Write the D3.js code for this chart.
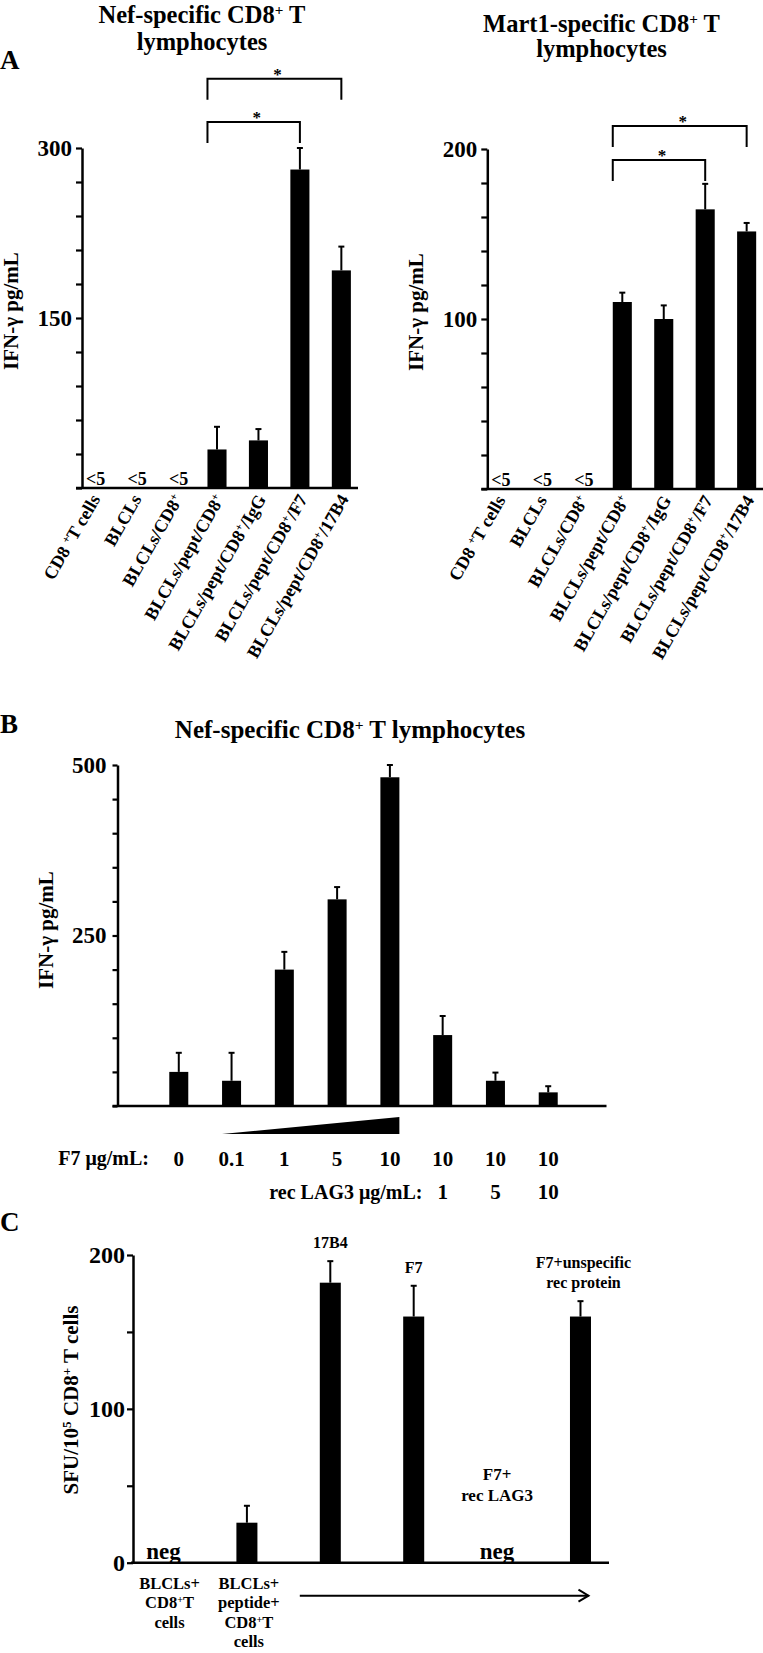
<!DOCTYPE html>
<html><head><meta charset="utf-8">
<script src="https://cdn.jsdelivr.net/npm/d3@7"></script>
<style>
html,body{margin:0;padding:0;background:#fff;}
svg text{font-family:"Liberation Serif","Times New Roman",serif;font-weight:bold;fill:#000;}
</style></head><body>
<svg id="chart" width="763" height="1653"></svg>
<script>
// ---------- Panel A data ----------
const catsA = ["CD8 ^+T cells","BLCLs","BLCLs/CD8^+","BLCLs/pept/CD8^+","BLCLs/pept/CD8^+/IgG","BLCLs/pept/CD8^+/F7","BLCLs/pept/CD8^+/17B4"];
const nefA = [null,null,null,34,42,281,192];
const nefAErr = [null,null,null,20,10,19,21];
const martA = [null,null,null,110,100,164.5,151.5];
const martAErr = [null,null,null,5.5,8,15,5];
const belowLimitA = "<5";
const nefATicks = [0,30,60,90,120,150,180,210,240,270,300];
const nefALabeled = [150,300];
const martATicks = [0,20,40,60,80,100,120,140,160,180,200];
const martALabeled = [100,200];
const nefABrackets = [{from:3,to:6,level:361},{from:3,to:5,level:323}];
const martABrackets = [{from:3,to:6,level:213.5},{from:3,to:5,level:193.5}];

// ---------- Panel B data ----------
const f7Conc = ["0","0.1","1","5","10","10","10","10"];
const lag3Conc = ["","","","","","1","5","10"];
const ifnB = [50,37,200,303,482,104,37,20];
const ifnBErr = [28,41,26,18,18,28,12,9];
const bTicks = [0,50,100,150,200,250,300,350,400,450,500];
const bLabeled = [250,500];

// ---------- Panel C data ----------
const catsC = ["BLCLs+|CD8^+T|cells","BLCLs+|peptide+|CD8^+T|cells","17B4","F7","F7+|rec LAG3","F7+unspecific|rec protein"];
const sfuC = [null,26,182,160,null,160];
const sfuCErr = [null,11,14,20,null,10];
const negC = [true,false,false,false,true,false];
const cTicks = [0,50,100,150,200];
const cLabeled = [0,100,200];

const svg = d3.select("#chart");
const FONT = '"Liberation Serif","Times New Roman",serif';

function richText(sel, str) {
  str.split(/(\^.)/).forEach(p => {
    if (!p) return;
    if (p[0] === "^") sel.append("tspan").attr("baseline-shift","super").attr("font-size","62%").text(p.slice(1));
    else sel.append("tspan").text(p);
  });
}
function styleAxis(a, fs) {
  a.attr("font-family", FONT).attr("font-size", fs);
  a.selectAll("path,line").attr("stroke","#000").attr("stroke-width",2.2);
  a.selectAll("text").attr("font-weight","bold").attr("fill","#000");
}
function yLabel(x, yc, str, fs) {
  const t = svg.append("text").attr("transform",`translate(${x},${yc}) rotate(-90)`)
    .attr("text-anchor","middle").attr("font-size",fs);
  richText(t, str);
}
function errorBars(g, xs, ys, vals, errs) {
  vals.forEach((v,i) => {
    if (v == null) return;
    const cx = xs(i) + xs.bandwidth()/2;
    g.append("line").attr("x1",cx).attr("x2",cx).attr("y1",ys(v)).attr("y2",ys(v+errs[i]))
      .attr("stroke","#000").attr("stroke-width",2);
    g.append("line").attr("x1",cx-3).attr("x2",cx+3).attr("y1",ys(v+errs[i])).attr("y2",ys(v+errs[i]))
      .attr("stroke","#000").attr("stroke-width",2);
  });
}
function bars(g, xs, ys, vals) {
  g.selectAll("rect.bar").data(vals.map((v,i)=>({v,i})).filter(d=>d.v!=null)).join("rect")
    .attr("class","bar").attr("x",d=>xs(d.i)).attr("width",xs.bandwidth())
    .attr("y",d=>ys(d.v)).attr("height",d=>ys(0)-ys(d.v)).attr("fill","#000");
}

// ---------- Panel A ----------
function panelA(cfg) {
  const g = svg.append("g");
  const y = d3.scaleLinear().domain([0,cfg.max]).range([cfg.y0, cfg.yTop]);
  const x = d3.scaleBand().domain(d3.range(catsA.length))
    .range([cfg.ax-8, cfg.ax+278]).paddingInner(0.54).paddingOuter(0.22);
  g.append("line").attr("x1",cfg.ax-6).attr("x2",cfg.ax+276).attr("y1",cfg.y0).attr("y2",cfg.y0)
    .attr("stroke","#000").attr("stroke-width",2.5);
  const ya = g.append("g").attr("transform",`translate(${cfg.ax},0)`)
    .call(d3.axisLeft(y).tickValues(cfg.ticks).tickSize(6).tickSizeOuter(0).tickPadding(4)
      .tickFormat(d => cfg.labeled.includes(d) ? d : ""));
  styleAxis(ya, 23);
  ya.select(".domain").attr("stroke-width",2.5);
  bars(g, x, y, cfg.vals);
  errorBars(g, x, y, cfg.vals, cfg.errs);
  cfg.vals.forEach((v,i) => {
    if (v == null) g.append("text").attr("x",x(i)+x.bandwidth()/2+3).attr("y",cfg.y0-3)
      .attr("text-anchor","middle").attr("font-size",18).text(belowLimitA);
  });
  catsA.forEach((c,i) => {
    const t = g.append("text").attr("text-anchor","end").attr("font-size",18)
      .attr("transform",`translate(${x(i)+x.bandwidth()/2+8},${cfg.y0+11}) rotate(-60)`);
    richText(t, c);
  });
  cfg.brackets.forEach(b => {
    const xl = x(b.from), xr = x(b.to) + x.bandwidth()/2, yb = y(b.level);
    g.append("path").attr("d",`M${xl},${yb+21}V${yb}H${xr}V${yb+21}`)
      .attr("fill","none").attr("stroke","#000").attr("stroke-width",2);
    g.append("text").attr("x",(xl+xr)/2+3).attr("y",yb+1).attr("text-anchor","middle")
      .attr("font-size",17).text("*");
  });
  cfg.title.forEach((line,k) => {
    const t = g.append("text").attr("x",cfg.titleX).attr("y",cfg.titleY[k])
      .attr("text-anchor","middle").attr("font-size",24.5);
    richText(t, line);
  });
  yLabel(cfg.ylabX, cfg.ylabY, "IFN-γ pg/mL", 21);
}

panelA({ax:82, y0:488, yTop:148, max:300, ticks:nefATicks, labeled:nefALabeled,
  vals:nefA, errs:nefAErr, brackets:nefABrackets,
  title:["Nef-specific CD8^+ T","lymphocytes"], titleX:202, titleY:[23,50],
  ylabX:18, ylabY:311});
panelA({ax:487.3, y0:489, yTop:149, max:200, ticks:martATicks, labeled:martALabeled,
  vals:martA, errs:martAErr, brackets:martABrackets,
  title:["Mart1-specific CD8^+ T","lymphocytes"], titleX:601.5, titleY:[31.7,56.7],
  ylabX:423, ylabY:312});
svg.append("text").attr("x",0).attr("y",69).attr("font-size",27).text("A");

// ---------- Panel B ----------
(function(){
  const g = svg.append("g");
  const ax = 117.5, y0 = 1106;
  const y = d3.scaleLinear().domain([0,500]).range([y0,765]);
  const x = d3.scaleBand().domain(d3.range(ifnB.length)).range([ax-1, ax+493]).paddingInner(0.64).paddingOuter(1);
  g.append("line").attr("x1",ax-5).attr("x2",ax+489).attr("y1",y0).attr("y2",y0)
    .attr("stroke","#000").attr("stroke-width",2.5);
  const ya = g.append("g").attr("transform",`translate(${ax},0)`)
    .call(d3.axisLeft(y).tickValues(bTicks).tickSize(5).tickSizeOuter(0).tickPadding(6)
      .tickFormat(d => bLabeled.includes(d) ? d : ""));
  styleAxis(ya, 23);
  ya.select(".domain").attr("stroke-width",2.5);
  bars(g, x, y, ifnB);
  errorBars(g, x, y, ifnB, ifnBErr);
  const bw = x.bandwidth();
  g.append("path").attr("d",`M${x(1)},${y0+28}L${x(4)+bw},${y0+28}L${x(4)+bw},${y0+11}Z`).attr("fill","#000");
  g.append("text").attr("x",149).attr("y",y0+59).attr("text-anchor","end").attr("font-size",20).text("F7 μg/mL:");
  f7Conc.forEach((c,i) => g.append("text").attr("x",x(i)+bw/2).attr("y",y0+60)
    .attr("text-anchor","middle").attr("font-size",21).text(c));
  g.append("text").attr("x",422.5).attr("y",y0+92.5).attr("text-anchor","end").attr("font-size",20).text("rec LAG3 μg/mL:");
  lag3Conc.forEach((c,i) => { if (c) g.append("text").attr("x",x(i)+bw/2).attr("y",y0+93)
    .attr("text-anchor","middle").attr("font-size",21).text(c); });
  const t = g.append("text").attr("x",350).attr("y",738).attr("text-anchor","middle").attr("font-size",25);
  richText(t, "Nef-specific CD8^+ T lymphocytes");
  yLabel(53, 930, "IFN-γ pg/mL", 21);
  svg.append("text").attr("x",0).attr("y",733).attr("font-size",27).text("B");
})();

// ---------- Panel C ----------
(function(){
  const g = svg.append("g");
  const ax = 133, y0 = 1562.7;
  const y = d3.scaleLinear().domain([0,200]).range([y0,1255]);
  const x = d3.scaleBand().domain(d3.range(catsC.length)).range([ax, ax+478]).paddingInner(0.748).paddingOuter(0.24);
  const bw = x.bandwidth();
  g.append("line").attr("x1",ax-2).attr("x2",609).attr("y1",y0).attr("y2",y0)
    .attr("stroke","#000").attr("stroke-width",2.5);
  const ya = g.append("g").attr("transform",`translate(${ax},0)`)
    .call(d3.axisLeft(y).tickValues(cTicks).tickSize(6).tickSizeOuter(0).tickPadding(2)
      .tickFormat(d => cLabeled.includes(d) ? d : ""));
  styleAxis(ya, 24);
  ya.select(".domain").attr("stroke-width",2.5);
  bars(g, x, y, sfuC);
  errorBars(g, x, y, sfuC, sfuCErr);
  catsC.forEach((c,i) => {
    const lines = c.split("|");
    const cx = x(i) + bw/2;
    if (negC[i]) g.append("text").attr("x",cx).attr("y",y0-4).attr("text-anchor","middle").attr("font-size",23).text("neg");
    if (i < 2) {
      lines.forEach((l,k) => { const t = g.append("text").attr("x",cx+(i===0?6:2)).attr("y",y0+26+k*19.5)
        .attr("text-anchor","middle").attr("font-size",16.5); richText(t,l); });
    } else if (negC[i]) {
      lines.forEach((l,k) => { const t = g.append("text").attr("x",cx).attr("y",y(54)+k*21)
        .attr("text-anchor","middle").attr("font-size",17); richText(t,l); });
    } else {
      const top = y(sfuC[i]+sfuCErr[i]) - 13;
      lines.forEach((l,k) => { const t = g.append("text").attr("x",cx+(lines.length>1?3:0))
        .attr("y",top-(lines.length-1-k)*20).attr("text-anchor","middle").attr("font-size",16); richText(t,l); });
    }
  });
  const ax1 = x(2)-20, ax2 = x(5)+bw/2+8, ay = y0+33;
  g.append("line").attr("x1",ax1).attr("x2",ax2).attr("y1",ay).attr("y2",ay).attr("stroke","#000").attr("stroke-width",2);
  g.append("path").attr("d",`M${ax2-10},${ay-6}L${ax2},${ay}L${ax2-10},${ay+6}`).attr("fill","none").attr("stroke","#000").attr("stroke-width",2);
  yLabel(78, 1400, "SFU/10^5 CD8^+ T cells", 21);
  svg.append("text").attr("x",0).attr("y",1231).attr("font-size",27).text("C");
})();
</script>
</body></html>
